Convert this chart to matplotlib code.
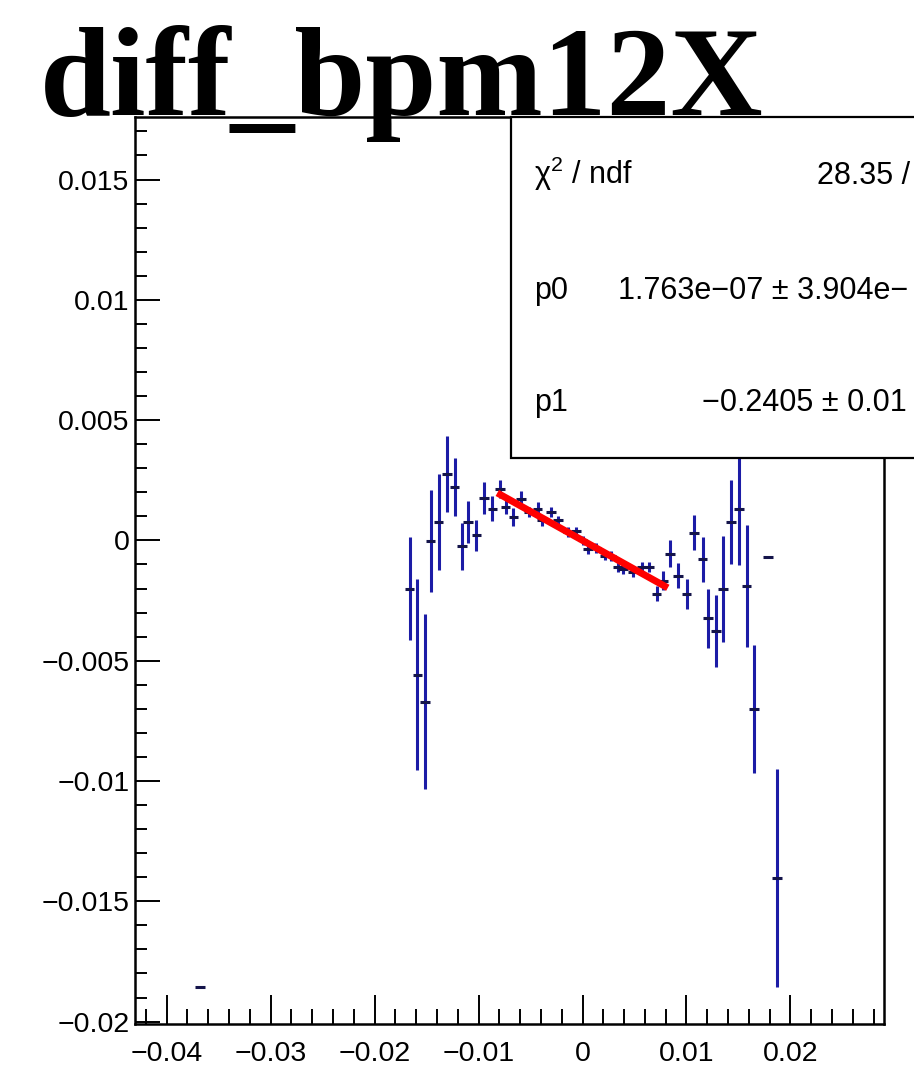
import matplotlib
matplotlib.use("Agg")
import matplotlib.pyplot as plt
import numpy as np
from matplotlib.patches import Rectangle
from matplotlib.ticker import MultipleLocator, FuncFormatter

plt.rcParams["mathtext.fontset"] = "custom"
plt.rcParams["mathtext.rm"] = "Liberation Sans"
plt.rcParams["mathtext.it"] = "Liberation Sans"

# profile points
x_vals = [
    -0.03679,
    -0.01664, -0.01589, -0.01513, -0.01461, -0.01384, -0.01304, -0.01230,
    -0.01157, -0.01102, -0.01022, -0.00948, -0.00868,
    -0.00794, -0.00739, -0.00666, -0.00592, -0.00515, -0.00432, -0.00388,
    -0.00304, -0.00234, -0.00138, -0.00063, 0.00000, 0.00055, 0.00134,
    0.00215, 0.00273, 0.00343, 0.00391, 0.00488, 0.00574, 0.00641,
    0.00713, 0.00776,
    0.00840, 0.00920, 0.01001, 0.01071, 0.01155, 0.01209, 0.01283,
    0.01353, 0.01427, 0.01507, 0.01578, 0.01648, 0.01786, 0.01869,
]
y_vals = [
    -0.01857,
    -0.00201, -0.00558, -0.00670, -0.00003, 0.00076, 0.00275, 0.00222,
    -0.00024, 0.00076, 0.00021, 0.00176, 0.00132,
    0.00215, 0.00139, 0.00097, 0.00174, 0.00118, 0.00132, 0.00083,
    0.00118, 0.00083, 0.00035, 0.00039, 0.00000, -0.00035, -0.00032,
    -0.00063, -0.00066, -0.00111, -0.00118, -0.00132, -0.00111, -0.00111,
    -0.00222, -0.00167,
    -0.00055, -0.00146, -0.00222, 0.00032, -0.00079, -0.00324, -0.00378,
    -0.00201, 0.00076, 0.00132, -0.00190, -0.00701, -0.00069, -0.01403,
]
y_errs = [
    0.0,
    0.00215, 0.00397, 0.00365, 0.00212, 0.00198, 0.00159, 0.00121,
    0.00097, 0.00087, 0.00064, 0.00065, 0.00052,
    0.00037, 0.00030, 0.00038, 0.00031, 0.00020, 0.00029, 0.00024,
    0.00020, 0.00020, 0.00020, 0.00017, 0.00020, 0.00020, 0.00020,
    0.00020, 0.00020, 0.00020, 0.00020, 0.00020, 0.00020, 0.00020,
    0.00031, 0.00038,
    0.00055, 0.00052, 0.00063, 0.00073, 0.00094, 0.00122, 0.00149,
    0.00221, 0.00176, 0.00236, 0.00255, 0.00265, 0.0, 0.00453,
]
half_bin = 0.00046

# linear fit shown in red
p0 = 1.763e-07
p1 = -0.2405
fit_range = [-0.0082, 0.0082]

title = "diff_bpm12X"
stat_rows = [
    ("χ$^{2}$ / ndf", "28.35 /"),
    ("p0", "1.763e−07 ± 3.904e−"),
    ("p1", "−0.2405 ± 0.01"),
]

SANS = "Liberation Sans"
BLUE = "#1c1ca6"
DARK = "#14144a"

fig = plt.figure(figsize=(9.14, 10.83), dpi=100)
ax = fig.add_axes([0.1477, 0.0545, 0.8195, 0.8375])

xs = np.array(x_vals)
ys = np.array(y_vals)
ax.errorbar(xs, ys, yerr=np.array(y_errs), fmt="none", ecolor=BLUE,
            elinewidth=2.2, capsize=0, zorder=3)
ax.errorbar(xs, ys, xerr=half_bin, fmt="none", ecolor=DARK,
            elinewidth=2.2, capsize=0, zorder=4)

fx = np.array(fit_range)
ax.plot(fx, p0 + p1 * fx, color="red", lw=5, solid_capstyle="butt", zorder=5)

ax.set_xlim(-0.04305, 0.0290)
ax.set_ylim(-0.0201, 0.0176)

ax.xaxis.set_major_locator(MultipleLocator(0.01))
ax.xaxis.set_minor_locator(MultipleLocator(0.002))
ax.yaxis.set_major_locator(MultipleLocator(0.005))
ax.yaxis.set_minor_locator(MultipleLocator(0.001))


def fmt(v, pos):
    if abs(v) < 1e-12:
        return "0"
    s = ("%.3f" % v).rstrip("0")
    return s.replace("-", "−")


ax.xaxis.set_major_formatter(FuncFormatter(fmt))
ax.yaxis.set_major_formatter(FuncFormatter(fmt))

ax.tick_params(axis="x", which="major", direction="in", length=21, width=1.4, pad=12)
ax.tick_params(axis="x", which="minor", direction="in", length=11, width=1.4)
ax.tick_params(axis="y", which="major", direction="in", length=18, width=1.4, pad=4)
ax.tick_params(axis="y", which="minor", direction="in", length=8.6, width=1.4)
for lab in ax.get_xticklabels() + ax.get_yticklabels():
    lab.set_fontfamily(SANS)
    lab.set_fontsize(20.5)
for sp in ax.spines.values():
    sp.set_linewidth(1.8)

# stats box, running off the right edge like the original
box = Rectangle((0.502, 0.624), 0.6, 0.376, transform=ax.transAxes,
                facecolor="white", edgecolor="black", lw=1.6,
                clip_on=False, zorder=10)
ax.add_patch(box)

label_x = 0.584
value_x = [0.894, 0.676, 0.768]
base_y = [0.830, 0.7235, 0.6205]
for (name, val), vx, by in zip(stat_rows, value_x, base_y):
    fig.text(label_x, by, name, family=SANS, fontsize=22, va="baseline", zorder=11)
    fig.text(vx, by, val, family=SANS, fontsize=22, va="baseline", zorder=11)

fig.text(0.0438, 0.8938, title, family="Liberation Serif", weight="bold",
         fontsize=92, va="baseline", zorder=12)

fig.savefig("out.png", dpi=100)
